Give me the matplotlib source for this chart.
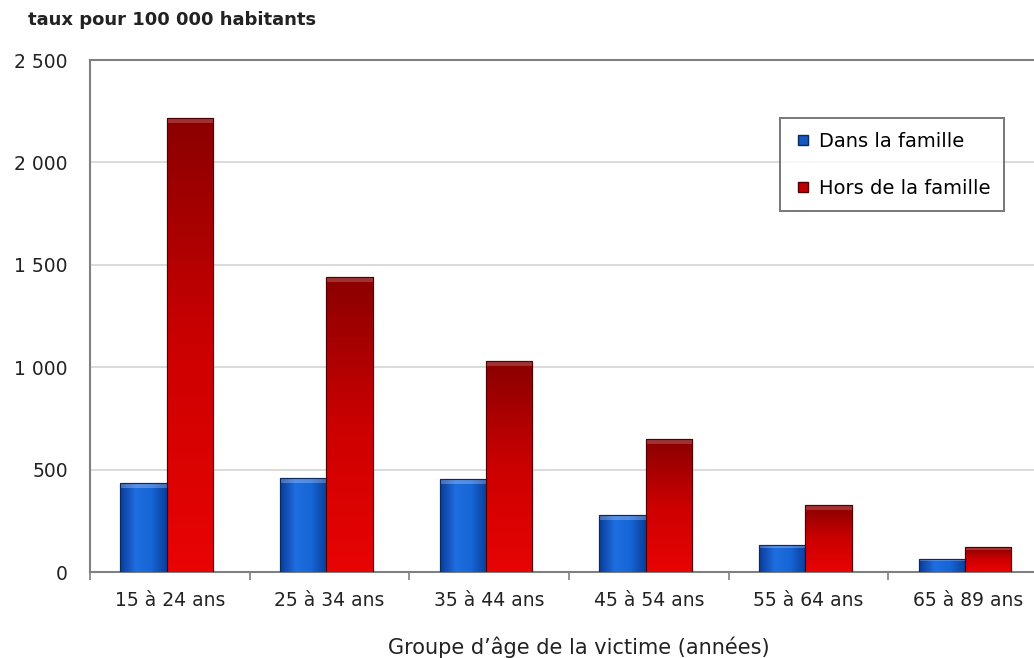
import numpy as np
import matplotlib
matplotlib.use('Agg')
import matplotlib.pyplot as plt
from matplotlib.lines import Line2D
from matplotlib.colors import LinearSegmentedColormap

# Data
groupes = ['15 à 24 ans', '25 à 34 ans', '35 à 44 ans', '45 à 54 ans', '55 à 64 ans', '65 à 89 ans']
dans_famille = [436, 461, 453, 277, 134, 62]
hors_famille = [2217, 1440, 1030, 648, 326, 121]
y_ticks = [0, 500, 1000, 1500, 2000, 2500]

plt.rcParams['font.family'] = ['DejaVu Sans']

fig = plt.figure(figsize=(10.34, 6.58), dpi=100)
ax = fig.add_axes([90 / 1034, 86 / 658, 958 / 1034, 512 / 658])

x = np.arange(len(groupes))
width = 0.29
shift = -0.02

bars_blue = ax.bar(x + shift - width / 2, dans_famille, width, color='#1458c0',
                   edgecolor='#0a2a60', linewidth=0.8, zorder=3)
bars_red = ax.bar(x + shift + width / 2, hors_famille, width, color='#d00000',
                  edgecolor='#500000', linewidth=0.8, zorder=3)

# gradient fill, clipped to each bar
blue_cmap = LinearSegmentedColormap.from_list('b', ['#0a3c98', '#1f6ee0', '#1766d6', '#0a3f9c'])
red_cmap = LinearSegmentedColormap.from_list('r', ['#e80404', '#cc0000', '#8a0000'])
hgrad = np.linspace(0, 1, 64).reshape(1, -1)
vgrad = np.linspace(0, 1, 64).reshape(-1, 1)
for bar in bars_blue:
    x0, w, h = bar.get_x(), bar.get_width(), bar.get_height()
    im = ax.imshow(hgrad, cmap=blue_cmap, extent=(x0, x0 + w, 0, h),
                   aspect='auto', origin='lower', zorder=3.5)
    im.set_clip_path(bar)
    ax.add_patch(plt.Rectangle((x0, h - min(h * 0.12, 25)), w, min(h * 0.12, 25),
                               color='white', alpha=0.25, lw=0, zorder=3.6))
for bar in bars_red:
    x0, w, h = bar.get_x(), bar.get_width(), bar.get_height()
    im = ax.imshow(vgrad, cmap=red_cmap, extent=(x0, x0 + w, 0, h),
                   aspect='auto', origin='lower', zorder=3.5)
    im.set_clip_path(bar)
    ax.add_patch(plt.Rectangle((x0, h - min(h * 0.12, 25)), w, min(h * 0.12, 25),
                               color='white', alpha=0.2, lw=0, zorder=3.6))
# redraw outlines on top
for bar in list(bars_blue) + list(bars_red):
    ax.add_patch(plt.Rectangle((bar.get_x(), 0), bar.get_width(), bar.get_height(),
                               fill=False, edgecolor=bar.get_edgecolor(), lw=0.8, zorder=4))

ax.set_xlim(-0.5, len(groupes) - 0.5)
ax.set_ylim(0, 2500)

ax.set_yticks(y_ticks)
ax.set_yticklabels([f'{v:,}'.replace(',', ' ') for v in y_ticks], fontsize=13.5, color='#222222')
ax.tick_params(axis='y', length=0, pad=16)
ax.yaxis.grid(True, color='#d4d4d4', linewidth=1.2, zorder=0)
ax.set_axisbelow(True)

ax.set_xticks(x)
ax.set_xticklabels(groupes, fontsize=13.5, color='#222222')
ax.set_xticks(np.arange(len(groupes) + 1) - 0.5, minor=True)
ax.tick_params(axis='x', which='major', length=0, pad=14)
ax.tick_params(axis='x', which='minor', length=6, width=1.2, color='#808080', direction='out')

for side in ['left', 'top', 'bottom', 'right']:
    ax.spines[side].set_color('#808080')
    ax.spines[side].set_linewidth(1.5)

fig.text(28 / 1034, 1 - 20 / 658, 'taux pour 100 000 habitants', fontsize=13,
         fontweight='bold', color='#222222', va='center', ha='left')
fig.text(579 / 1034, 1 - 647 / 658, 'Groupe d\u2019âge de la victime (années)', fontsize=15,
         color='#222222', va='center', ha='center')

handles = [Line2D([], [], marker='s', ls='', markersize=7, markerfacecolor='#1458c0',
                  markeredgecolor='#0a2a60', label='Dans la famille'),
           Line2D([], [], marker='s', ls='', markersize=7, markerfacecolor='#c00000',
                  markeredgecolor='#500000', label='Hors de la famille')]
leg = ax.legend(handles=handles, loc='upper left', fontsize=14, frameon=True, fancybox=False,
                handlelength=1.0, handletextpad=0.3, labelspacing=1.45,
                borderpad=0.7, borderaxespad=0, edgecolor='#555555')
leg.set_bbox_to_anchor((780 / 1034, 1 - 118 / 658), transform=fig.transFigure)
leg.get_frame().set_linewidth(1.4)

fig.savefig('out.png', dpi=100, facecolor='white')
